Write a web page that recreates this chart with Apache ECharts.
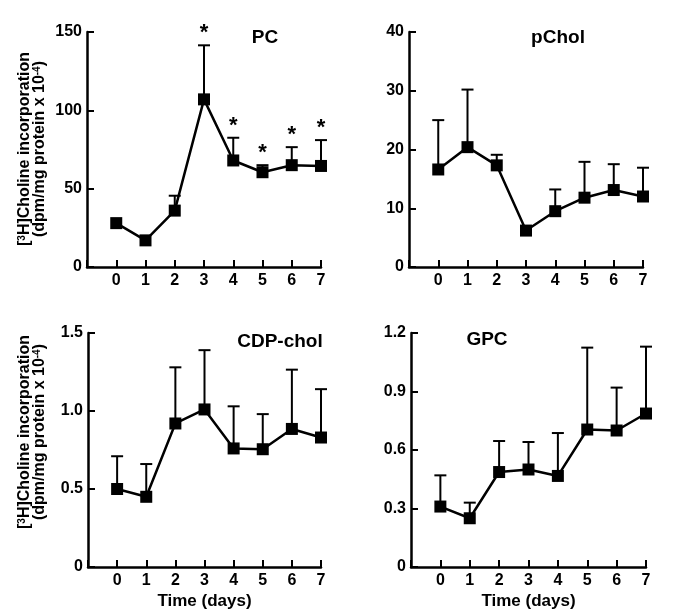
<!DOCTYPE html>
<html><head><meta charset="utf-8">
<script src="https://cdn.jsdelivr.net/npm/echarts@6/dist/echarts.min.js"></script>
<style>html,body{margin:0;padding:0;background:#fff}#c{width:700px;height:615px}</style>
</head><body><div id="c"></div>
<script>
const days = [0, 1, 2, 3, 4, 5, 6, 7];
const xTickLabels = ['0', '1', '2', '3', '4', '5', '6', '7'];

const pcMean = [28, 17, 36, 107, 68, 60.5, 65, 64.5];
const pcTop = [null, null, 45.5, 141.5, 82.5, 65, 76.5, 81];
const pcStars = [3, 4, 5, 6, 7];

const pcholMean = [16.6, 20.4, 17.3, 6.2, 9.5, 11.8, 13.1, 12.0];
const pcholTop = [25.0, 30.2, 19.1, null, 13.2, 17.9, 17.5, 16.9];

const cdpMean = [0.50, 0.45, 0.92, 1.01, 0.76, 0.755, 0.885, 0.83];
const cdpTop = [0.71, 0.66, 1.28, 1.39, 1.03, 0.98, 1.265, 1.14];

const gpcMean = [0.31, 0.25, 0.487, 0.50, 0.467, 0.705, 0.70, 0.787];
const gpcTop = [0.47, 0.33, 0.646, 0.641, 0.687, 1.125, 0.92, 1.13];

const panelTitles = ['PC', 'pChol', 'CDP-chol', 'GPC'];
const yAxisName = '[{sup|3}H]Choline incorporation\n(dpm/mg protein x 10{sup|-4})';
const xAxisName = 'Time (days)';

const FONT = 'Liberation Sans, Arial, Helvetica, sans-serif';
const panels = [
  {mean: pcMean, top: pcTop, ymax: 150, step: 50, dec: 0, grid: {left: 87, top: 32, width: 234, height: 235}, title: [265, 38], showX: false},
  {mean: pcholMean, top: pcholTop, ymax: 40, step: 10, dec: 0, grid: {left: 409, top: 32, width: 234, height: 235}, title: [558, 38], showX: false},
  {mean: cdpMean, top: cdpTop, ymax: 1.5, step: 0.5, dec: 1, grid: {left: 88, top: 333, width: 233, height: 234}, title: [280, 342], showX: true},
  {mean: gpcMean, top: gpcTop, ymax: 1.2, step: 0.3, dec: 1, grid: {left: 411, top: 333, width: 235, height: 234}, title: [487, 340], showX: true}
];

const chart = echarts.init(document.getElementById('c'), null, {renderer: 'canvas'});
const grids = [], xAxes = [], yAxes = [], series = [], graphics = [];

function errRender(params, api) {
  const x = api.value(0), t = api.value(2), m = api.value(1);
  const p = api.coord([x, m]);
  const q = api.coord([x, t]);
  const st = {stroke: '#000', lineWidth: 2};
  return {type: 'group', children: [
    {type: 'line', shape: {x1: p[0], y1: p[1], x2: q[0], y2: q[1]}, style: st},
    {type: 'line', shape: {x1: q[0] - 6, y1: q[1], x2: q[0] + 6, y2: q[1]}, style: st}
  ]};
}

panels.forEach((pn, i) => {
  grids.push(pn.grid);
  xAxes.push({
    type: 'value', gridIndex: i, min: -1, max: 7, interval: 1,
    axisLine: {onZero: false, lineStyle: {color: '#000', width: 2.5}},
    axisTick: {inside: true, length: 7, lineStyle: {color: '#000', width: 2}},
    axisLabel: {margin: 6, color: '#000', fontSize: 16, fontWeight: 'bold', fontFamily: FONT,
      formatter: v => (v < 0 ? '' : xTickLabels[days.indexOf(v)])},
    splitLine: {show: false},
    name: pn.showX ? xAxisName : '', nameLocation: 'middle', nameGap: 26,
    nameTextStyle: {color: '#000', fontSize: 17, fontWeight: 'bold', fontFamily: FONT}
  });
  yAxes.push({
    type: 'value', gridIndex: i, min: 0, max: pn.ymax, interval: pn.step,
    axisLine: {show: true, onZero: false, lineStyle: {color: '#000', width: 2.5}},
    axisTick: {show: true, inside: true, length: 7, lineStyle: {color: '#000', width: 2}},
    axisLabel: {margin: 5, color: '#000', fontSize: 16, fontWeight: 'bold', fontFamily: FONT,
      formatter: v => (v === 0 ? '0' : v.toFixed(pn.dec))},
    splitLine: {show: false}
  });
  const errData = [];
  days.forEach((d, k) => { if (pn.top[k] != null) errData.push([d, pn.mean[k], pn.top[k]]); });
  series.push({
    type: 'custom', xAxisIndex: i, yAxisIndex: i, renderItem: errRender, data: errData, z: 1, clip: false
  });
  series.push({
    type: 'line', xAxisIndex: i, yAxisIndex: i, data: days.map((d, k) => [d, pn.mean[k]]),
    symbol: 'rect', symbolSize: 12, showAllSymbol: true, z: 3,
    lineStyle: {color: '#000', width: 2.5}, itemStyle: {color: '#000'}, animation: false
  });
  graphics.push({type: 'text', x: pn.title[0], y: pn.title[1],
    style: {text: panelTitles[i], textAlign: 'center', textVerticalAlign: 'middle', fill: '#000',
      font: 'bold 19px ' + FONT}});
});

// significance stars on PC
series.push({
  type: 'custom', xAxisIndex: 0, yAxisIndex: 0, z: 4, clip: false,
  data: pcStars.map(k => [days[k], pcTop[k]]),
  renderItem: (params, api) => {
    const q = api.coord([api.value(0), api.value(1)]);
    return {type: 'text', x: q[0], y: q[1] - 12,
      style: {text: '*', textAlign: 'center', textVerticalAlign: 'middle', fill: '#000', font: 'bold 22px ' + FONT}};
  }
});

// y-axis titles
[[32, 149], [32, 432]].forEach(pos => {
  graphics.push({type: 'text', x: pos[0], y: pos[1], rotation: Math.PI / 2,
    style: {text: yAxisName, textAlign: 'center', textVerticalAlign: 'middle', fill: '#000',
      font: 'bold 16px ' + FONT, lineHeight: 15,
      rich: {sup: {fontSize: 10, fontWeight: 'bold', fontFamily: FONT, verticalAlign: 'top', lineHeight: 15, padding: [0, 0, 6, 0]}}}});
});

chart.setOption({
  animation: false,
  backgroundColor: '#fff',
  grid: grids, xAxis: xAxes, yAxis: yAxes, series: series, graphic: graphics
});
</script></body></html>
